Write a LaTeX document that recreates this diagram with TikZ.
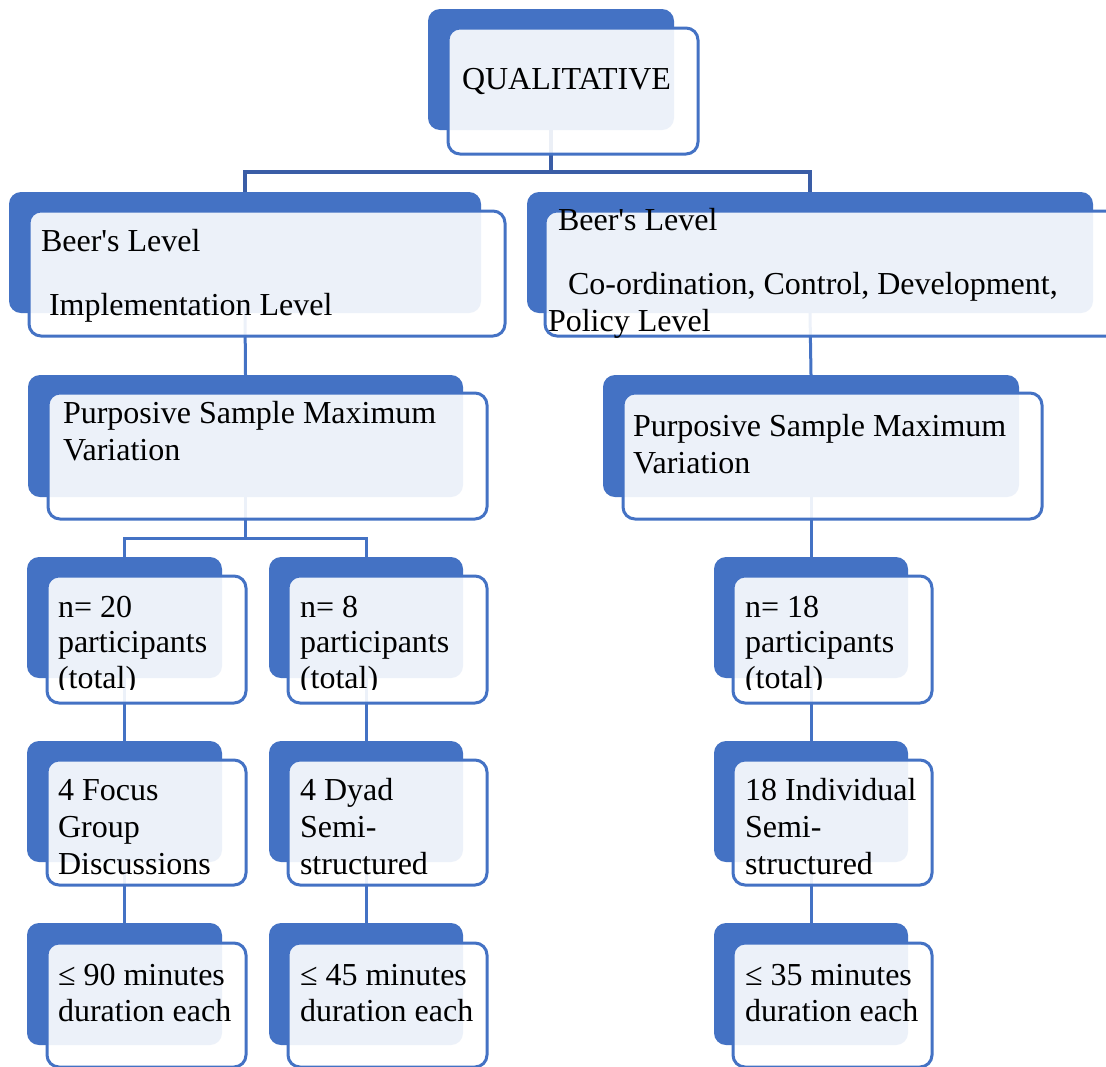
\documentclass[tikz,border=0pt]{standalone}
\usepackage{fontspec}
\setmainfont{Liberation Serif}[Ligatures=TeXOff]
\usetikzlibrary{fit}
\pgfdeclarelayer{background}
\pgfsetlayers{background,main}
\definecolor{sblue}{HTML}{4472C4}
\definecolor{dblue}{HTML}{3A5DA6}
\tikzset{
  backbox/.style={draw=none, fill=sblue, rounded corners=6pt, inner sep=0pt, outer sep=0pt},
  frontbox/.style={draw=sblue, line width=1.5pt, fill=white, fill opacity=0.9, rounded corners=6pt, inner sep=0pt, outer sep=0pt},
  lbl/.style={anchor=base west, inner sep=0pt, outer sep=0pt, font=\fontsize{16}{18}\selectfont, text=black},
  conn/.style={draw=sblue, line width=1.5pt},
  topconn/.style={draw=dblue, line width=2pt},
}
\newcommand\boxpair[9]{%
  \node[backbox, fit={(#2,#3) (#4,#5)}] (#1b) {};
  \node[frontbox, fit={(#6,#7) (#8,#9)}] (#1f) {};
}
\begin{document}
\begin{tikzpicture}[x=0.5pt, y=-0.5pt]
\clip (0,0) rectangle (1106,1066);
% boxes
\boxpair{q}{428}{9}{674}{130}{448}{28}{698}{154}
\boxpair{bl}{9}{192}{481}{313}{29}{211}{505}{336}
\boxpair{br}{527}{192}{1093}{313}{545}{211}{1130}{336}
\boxpair{pl}{28}{375}{463}{497}{48}{393}{487}{519}
\boxpair{pr}{603}{375}{1019}{497}{623}{393}{1042}{519}
\boxpair{na}{27}{557}{222}{678}{47}{576}{246}{703}
\boxpair{nb}{269}{557}{463}{678}{288}{576}{487}{703}
\boxpair{nc}{714}{557}{908}{678}{733}{576}{932}{703}
\boxpair{ma}{27}{741}{222}{862}{47}{760}{246}{885}
\boxpair{mb}{269}{741}{463}{862}{288}{760}{487}{885}
\boxpair{mc}{714}{741}{908}{862}{733}{760}{932}{885}
\boxpair{da}{27}{923}{222}{1045}{47}{943}{246}{1067}
\boxpair{db}{269}{923}{463}{1045}{288}{943}{487}{1067}
\boxpair{dc}{714}{923}{908}{1045}{733}{943}{932}{1067}
% connectors
\coordinate (qj) at (551,172);
\coordinate (sj) at (245,538);
\begin{pgfonlayer}{background}
  \fill[white] (0,0) rectangle (1106,1066);
  \draw[topconn] (qb.south) -- (qb.south |- qj);
  \draw[topconn] (blb.north) -- (blb.north |- qj) -- (brb.north |- qj) -- (brb.north);
  \draw[conn] (blb.south) -- (plb.north);
  \draw[conn] (brb.south) -- (prb.north);
  \draw[conn] (plb.south) -- (plb.south |- sj);
  \draw[conn] (nab.north) -- (nab.north |- sj) -- (nbb.north |- sj) -- (nbb.north);
  \draw[conn] (prb.south) -- (ncb.north);
  \draw[conn] (nab.south) -- (mab.north);
  \draw[conn] (nbb.south) -- (mbb.north);
  \draw[conn] (ncb.south) -- (mcb.north);
  \draw[conn] (mab.south) -- (dab.north);
  \draw[conn] (mbb.south) -- (dbb.north);
  \draw[conn] (mcb.south) -- (dcb.north);
\end{pgfonlayer}
% texts
\node[lbl] (tq) at (462,89) {QUALITATIVE};
\node[lbl] (tbl1) at (41,251) {Beer's Level};
\node[lbl] (tbl2) at (49,315) {Implementation Level};
\node[lbl] (tbr1) at (558,230) {Beer's Level};
\node[lbl] (tbr2) at (568,294) {Co-ordination, Control, Development,};
\node[lbl] (tbr3) at (548,331) {Policy Level};
\node[lbl] (tpl1) at (63,423) {Purposive Sample Maximum};
\node[lbl] (tpl2) at (63,460) {Variation};
\node[lbl] (tpr1) at (633,436) {Purposive Sample Maximum};
\node[lbl] (tpr2) at (633,473) {Variation};
\begin{scope}
\clip (0,560) rectangle (1106,689);
\node[lbl] (tna1) at (58,617) {n= 20};
\node[lbl] (tna2) at (58,652) {participants};
\node[lbl] (tna3) at (58,688) {(total)};
\node[lbl] (tnb1) at (300,617) {n= 8};
\node[lbl] (tnb2) at (300,652) {participants};
\node[lbl] (tnb3) at (300,688) {(total)};
\node[lbl] (tnc1) at (745,617) {n= 18};
\node[lbl] (tnc2) at (745,652) {participants};
\node[lbl] (tnc3) at (745,688) {(total)};
\end{scope}
\node[lbl] (tma1) at (58,800) {4 Focus};
\node[lbl] (tma2) at (58,837) {Group};
\node[lbl] (tma3) at (58,874) {Discussions};
\node[lbl] (tmb1) at (300,800) {4 Dyad};
\node[lbl] (tmb2) at (300,837) {Semi-};
\node[lbl] (tmb3) at (300,874) {structured};
\node[lbl] (tmc1) at (745,800) {18 Individual};
\node[lbl] (tmc2) at (745,837) {Semi-};
\node[lbl] (tmc3) at (745,874) {structured};
\node[lbl] (tda1) at (58,985) {≤ 90 minutes};
\node[lbl] (tda2) at (58,1021) {duration each};
\node[lbl] (tdb1) at (300,985) {≤ 45 minutes};
\node[lbl] (tdb2) at (300,1021) {duration each};
\node[lbl] (tdc1) at (745,985) {≤ 35 minutes};
\node[lbl] (tdc2) at (745,1021) {duration each};
\end{tikzpicture}
\end{document}
